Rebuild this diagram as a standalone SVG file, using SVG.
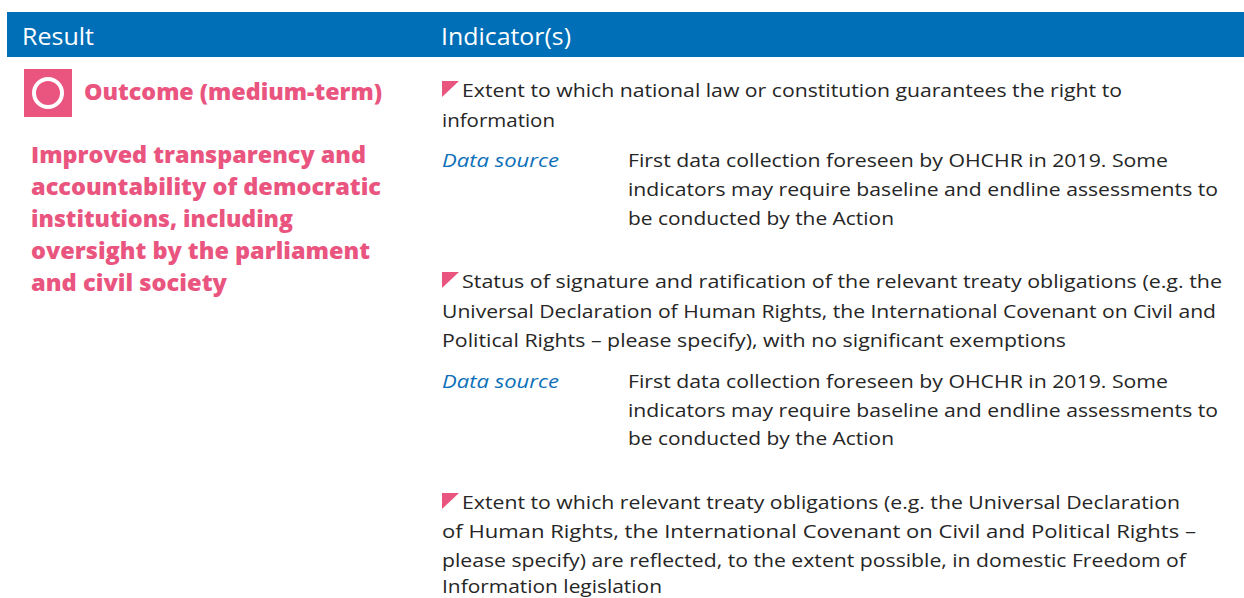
<svg xmlns="http://www.w3.org/2000/svg" width="1244" height="598" viewBox="0 0 1244 598">
<style>
.hd{font-family:"Open Sans","Liberation Sans",sans-serif;font-size:23px;fill:#ffffff}
.pk{font-family:"Open Sans","Liberation Sans",sans-serif;font-size:22px;font-weight:800;fill:#E9557F}
.tx{font-family:"Open Sans","Liberation Sans",sans-serif;font-size:19px;fill:#262626}
.ds{font-family:"Open Sans","Liberation Sans",sans-serif;font-size:19px;font-style:italic;fill:#0E6FB8}
.tri{fill:#E9557F}
</style>
<defs>
<polygon id="tri" points="0,0 17,0 0,16"/>
</defs>
<g id="header">
<rect x="7" y="12" width="1237" height="45" fill="#006FB8"/>
<text class="hd" x="22" y="45" textLength="72" lengthAdjust="spacingAndGlyphs">Result</text>
<text class="hd" x="441" y="45" textLength="130" lengthAdjust="spacingAndGlyphs">Indicator(s)</text>
</g>
<g id="result">
<rect x="24" y="69" width="48" height="48" fill="#E9557F"/>
<circle cx="48" cy="93" r="14" fill="none" stroke="#ffffff" stroke-width="4"/>
<text class="pk" x="84" y="100" textLength="298" lengthAdjust="spacingAndGlyphs">Outcome (medium-term)</text>
<text class="pk" x="31" y="163" textLength="335" lengthAdjust="spacingAndGlyphs">Improved transparency and</text>
<text class="pk" x="31" y="195" textLength="350" lengthAdjust="spacingAndGlyphs">accountability of democratic</text>
<text class="pk" x="31" y="227" textLength="262" lengthAdjust="spacingAndGlyphs">institutions, including</text>
<text class="pk" x="31" y="259" textLength="339" lengthAdjust="spacingAndGlyphs">oversight by the parliament</text>
<text class="pk" x="31" y="291" textLength="196" lengthAdjust="spacingAndGlyphs">and civil society</text>
</g>
<g id="indicator1">
<use href="#tri" class="tri" x="442" y="81"/>
<text class="tx" x="462" y="97" textLength="660" lengthAdjust="spacingAndGlyphs">Extent to which national law or constitution guarantees the right to</text>
<text class="tx" x="442" y="127" textLength="113" lengthAdjust="spacingAndGlyphs">information</text>
<text class="ds" x="442" y="167" textLength="117" lengthAdjust="spacingAndGlyphs">Data source</text>
<text class="tx" x="628" y="167" textLength="540" lengthAdjust="spacingAndGlyphs">First data collection foreseen by OHCHR in 2019. Some</text>
<text class="tx" x="628" y="196" textLength="590" lengthAdjust="spacingAndGlyphs">indicators may require baseline and endline assessments to</text>
<text class="tx" x="628" y="225" textLength="266" lengthAdjust="spacingAndGlyphs">be conducted by the Action</text>
</g>
<g id="indicator2">
<use href="#tri" class="tri" x="442" y="272"/>
<text class="tx" x="462" y="288" textLength="760" lengthAdjust="spacingAndGlyphs">Status of signature and ratification of the relevant treaty obligations (e.g. the</text>
<text class="tx" x="442" y="318" textLength="774" lengthAdjust="spacingAndGlyphs">Universal Declaration of Human Rights, the International Covenant on Civil and</text>
<text class="tx" x="442" y="347" textLength="624" lengthAdjust="spacingAndGlyphs">Political Rights – please specify), with no significant exemptions</text>
<text class="ds" x="442" y="388" textLength="117" lengthAdjust="spacingAndGlyphs">Data source</text>
<text class="tx" x="628" y="388" textLength="540" lengthAdjust="spacingAndGlyphs">First data collection foreseen by OHCHR in 2019. Some</text>
<text class="tx" x="628" y="417" textLength="590" lengthAdjust="spacingAndGlyphs">indicators may require baseline and endline assessments to</text>
<text class="tx" x="628" y="445" textLength="266" lengthAdjust="spacingAndGlyphs">be conducted by the Action</text>
</g>
<g id="indicator3">
<use href="#tri" class="tri" x="442" y="493"/>
<text class="tx" x="462" y="509" textLength="718" lengthAdjust="spacingAndGlyphs">Extent to which relevant treaty obligations (e.g. the Universal Declaration</text>
<text class="tx" x="442" y="538" textLength="754" lengthAdjust="spacingAndGlyphs">of Human Rights, the International Covenant on Civil and Political Rights –</text>
<text class="tx" x="442" y="567" textLength="744" lengthAdjust="spacingAndGlyphs">please specify) are reflected, to the extent possible, in domestic Freedom of</text>
<text class="tx" x="442" y="593" textLength="220" lengthAdjust="spacingAndGlyphs">Information legislation</text>
</g>
</svg>
